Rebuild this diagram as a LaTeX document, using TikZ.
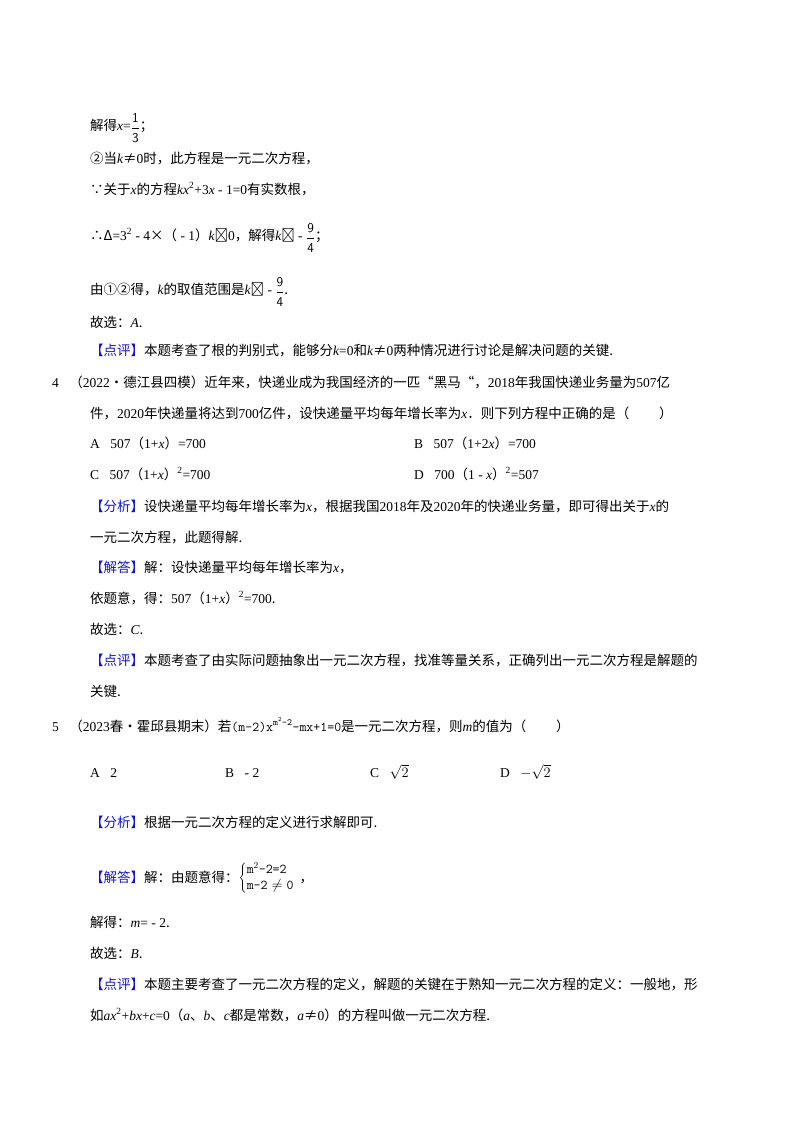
\documentclass[tikz,border=0pt]{standalone}
\usepackage{fontspec}
\setmainfont{Liberation Serif}
\newfontfamily\cjk{Noto Sans CJK SC}
\newcommand{\vi}[1]{{\rmfamily\itshape #1}}
\newcommand{\rr}[1]{{\rmfamily #1}}
\newcommand{\sq}{\textsuperscript{\rr{2}}}
\definecolor{lbl}{RGB}{20,20,210}
\newcommand{\lbtag}[1]{\textcolor{lbl}{【#1】}}
\newcommand{\fr}[2]{\raisebox{-0.3ex}{$\displaystyle\frac{\mathsf{#1}}{\mathsf{#2}}$}}
\begin{document}
\begin{tikzpicture}[x=1pt,y=-1pt,
  ln/.style={anchor=base west,inner sep=0pt,font=\fontsize{13.5}{16}\cjk}]
\useasboundingbox[fill=white] (0,0) rectangle (800,1132);
\node[ln] (l1) at (90,130) {解得\vi{x}\rr{=}\fr{1}{3}；};
\node[ln] (l2) at (90,163) {②当\vi{k}≠\rr{0}时，此方程是一元二次方程，};
\node[ln] (l3) at (90,194) {∵关于\vi{x}的方程\vi{kx}\sq\rr{+3}\vi{x}\rr{ - 1=0}有实数根，};
\node[ln] (l4) at (90,240) {∴Δ\rr{=3}\sq\rr{ - 4}×（\rr{ - 1}）\vi{k}⩾\rr{0}，解得\vi{k}⩾\rr{ - }\fr{9}{4}；};
\node[ln] (l5) at (90,294) {由①②得，\vi{k}的取值范围是\vi{k}⩾\rr{ - }\fr{9}{4}.};
\node[ln] (l6) at (90,327) {故选：\vi{A}.};
\node[ln] (l7) at (90,355) {\lbtag{点评}本题考查了根的判别式，能够分\vi{k}\rr{=0}和\vi{k}≠\rr{0}两种情况进行讨论是解决问题的关键.};
\node[ln] (q4) at (52,387) {\rr{4．}（\rr{2022}•德江县四模）近年来，快递业成为我国经济的一匹“黑马“，\rr{2018}年我国快递业务量为\rr{507}亿};
\node[ln] (q4b) at (90,418) {件，\rr{2020}年快递量将达到\rr{700}亿件，设快递量平均每年增长率为\vi{x}．则下列方程中正确的是（\hspace{2.2em}）};
\node[ln] (a4) at (90,448) {\rr{A．507}（\rr{1+}\vi{x}）\rr{=700}};
\node[ln] (b4) at (414,448) {\rr{B．507}（\rr{1+2}\vi{x}）\rr{=700}};
\node[ln] (c4) at (90,479) {\rr{C．507}（\rr{1+}\vi{x}）\sq\rr{=700}};
\node[ln] (d4) at (414,479) {\rr{D．700}（\rr{1 - }\vi{x}）\sq\rr{=507}};
\node[ln] (f4) at (90,511) {\lbtag{分析}设快递量平均每年增长率为\vi{x}，根据我国\rr{2018}年及\rr{2020}年的快递业务量，即可得出关于\vi{x}的};
\node[ln] (f4b) at (90,542) {一元二次方程，此题得解.};
\node[ln] (j4) at (90,572) {\lbtag{解答}解：设快递量平均每年增长率为\vi{x}，};
\node[ln] (j4b) at (90,603) {依题意，得：\rr{507}（\rr{1+}\vi{x}）\sq\rr{=700}.};
\node[ln] (j4c) at (90,634) {故选：\vi{C}.};
\node[ln] (p4) at (90,665) {\lbtag{点评}本题考查了由实际问题抽象出一元二次方程，找准等量关系，正确列出一元二次方程是解题的};
\node[ln] (p4b) at (90,696) {关键.};
\node[ln] (q5) at (52,731) {\rr{5．}（\rr{2023}春•霍邱县期末）若{\ttfamily (m-2)x\textsuperscript{m\textsuperscript{2}-2}-mx+1=0}是一元二次方程，则\vi{m}的值为（\hspace{2.2em}）};
\node[ln] (a5) at (90,777) {\rr{A．2}};
\node[ln] (b5) at (225,777) {\rr{B．- 2}};
\node[ln] (c5) at (370,777) {\rr{C．}$\sqrt{2}$};
\node[ln] (d5) at (500,777) {\rr{D．}$-\sqrt{2}$};
\node[ln] (f5) at (90,827) {\lbtag{分析}根据一元二次方程的定义进行求解即可.};
\node[ln] (j5) at (90,882) {\lbtag{解答}解：由题意得：$\left\{\begin{array}{@{}l}\texttt{m}^2\texttt{-2=2}\\ \texttt{m-2}\neq\texttt{0}\end{array}\right.$，};
\node[ln] (j5b) at (90,927) {解得：\vi{m}\rr{= - 2}.};
\node[ln] (j5c) at (90,958) {故选：\vi{B}.};
\node[ln] (p5) at (90,989) {\lbtag{点评}本题主要考查了一元二次方程的定义，解题的关键在于熟知一元二次方程的定义：一般地，形};
\node[ln] (p5b) at (90,1020) {如\vi{ax}\sq\rr{+}\vi{bx}\rr{+}\vi{c}\rr{=0}（\vi{a}、\vi{b}、\vi{c}都是常数，\vi{a}≠\rr{0}）的方程叫做一元二次方程.};
\end{tikzpicture}
\end{document}
